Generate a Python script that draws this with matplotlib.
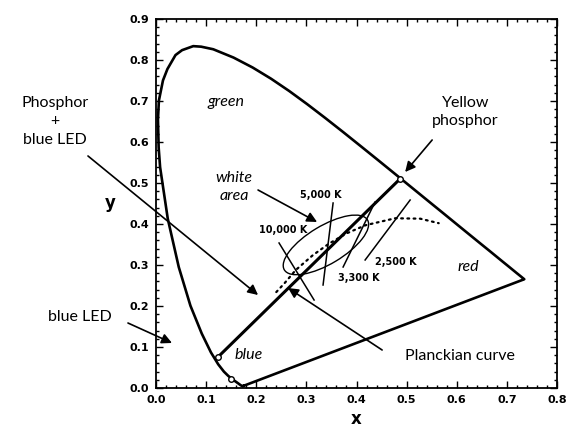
import numpy as np
import matplotlib
matplotlib.use("Agg")
import matplotlib.pyplot as plt
from matplotlib.patches import Ellipse
from matplotlib.transforms import ScaledTranslation
from matplotlib.ticker import MultipleLocator, FormatStrFormatter

# CIE 1931 spectral locus, 380-700 nm
locus_x = [0.1741, 0.1738, 0.1733, 0.1726, 0.1714, 0.1703, 0.1689, 0.1669, 0.1644, 0.1611,
           0.1566, 0.1510, 0.1440, 0.1355, 0.1241, 0.1096, 0.0913, 0.0687, 0.0454, 0.0235,
           0.0082, 0.0053, 0.0039, 0.0058, 0.0139, 0.0228, 0.0389, 0.0520, 0.0743, 0.0900,
           0.1142, 0.1547, 0.1929, 0.2296, 0.2658,
           0.3016, 0.3373, 0.3731, 0.4087, 0.4441, 0.4788, 0.5125, 0.5448, 0.5752, 0.6029,
           0.6270, 0.6482, 0.6658, 0.6801, 0.6915, 0.7006, 0.7079, 0.7190, 0.7260, 0.7300,
           0.7334, 0.7347]
locus_y = [0.0050, 0.0049, 0.0048, 0.0048, 0.0051, 0.0058, 0.0069, 0.0086, 0.0109, 0.0138,
           0.0177, 0.0227, 0.0297, 0.0399, 0.0578, 0.0868, 0.1327, 0.2007, 0.2950, 0.4127,
           0.5384, 0.5864, 0.6548, 0.7012, 0.7502, 0.7780, 0.8120, 0.8240, 0.8338, 0.8325,
           0.8262, 0.8059, 0.7816, 0.7543, 0.7243,
           0.6923, 0.6589, 0.6245, 0.5896, 0.5547, 0.5202, 0.4866, 0.4544, 0.4242, 0.3965,
           0.3725, 0.3514, 0.3340, 0.3197, 0.3083, 0.2993, 0.2920, 0.2809, 0.2740, 0.2700,
           0.2666, 0.2653]

# Planckian locus (dotted)
planck_x = [0.240, 0.256, 0.279, 0.313, 0.345, 0.380, 0.418, 0.477, 0.527, 0.564]
planck_y = [0.234, 0.255, 0.288, 0.324, 0.352, 0.377, 0.397, 0.414, 0.413, 0.402]

# blue LED -> yellow phosphor mixing line
blue_pt = (0.124, 0.076)
yellow_pt = (0.486, 0.509)
locus_pt = (0.149, 0.022)

# isotemperature lines
iso_labels = ["10,000 K", "5,000 K", "3,300 K", "2,500 K"]
iso_start = [(0.2455, 0.3537), (0.3533, 0.4512), (0.4371, 0.4537), (0.5070, 0.4585)]
iso_end = [(0.3154, 0.2146), (0.3333, 0.2512), (0.3733, 0.2951), (0.4172, 0.3122)]
iso_text = [(0.2535, 0.3854), (0.3293, 0.4707), (0.4052, 0.2683), (0.4790, 0.3073)]

# white area ellipse (center in data, size in inches)
white_center = (0.339, 0.349)
white_w, white_h, white_ang = 0.97, 0.38, 31

# arrows: tail -> head
arrow_tail = [(-0.1357, 0.5659), (-0.0559, 0.1585), (0.2036, 0.4829), (0.5509, 0.6049),
              (0.4511, 0.0927)]
arrow_head = [(0.2036, 0.2268), (0.0319, 0.1098), (0.3214, 0.4049), (0.4970, 0.5268),
              (0.2635, 0.2439)]

fig = plt.figure(figsize=(5.77, 4.28), dpi=100)
ax = fig.add_axes([156 / 577, 40 / 428, 401 / 577, 369 / 428])

ax.plot(locus_x + [locus_x[0]], locus_y + [locus_y[0]], color="black", lw=1.9,
        solid_joinstyle="round")
ax.plot(planck_x, planck_y, color="black", lw=1.6, ls=(0, (0.8, 2.0)),
        dash_capstyle="round")
ax.plot([blue_pt[0], yellow_pt[0]], [blue_pt[1], yellow_pt[1]], color="black", lw=2.2)

for p in [blue_pt, yellow_pt, locus_pt]:
    ax.plot(p[0], p[1], "o", ms=4, mfc="white", mec="black", mew=1.0)

for lab, s, e, t in zip(iso_labels, iso_start, iso_end, iso_text):
    ax.plot([s[0], e[0]], [s[1], e[1]], color="black", lw=1.1)
    ax.text(t[0], t[1], lab, fontsize=7, fontweight="bold", ha="center", va="center",
            family="DejaVu Sans")

ell = Ellipse((0, 0), white_w, white_h, angle=white_ang, fill=False, ec="black", lw=1.0,
              transform=fig.dpi_scale_trans + ScaledTranslation(*white_center, ax.transData))
ax.add_patch(ell)

for tl, hd in zip(arrow_tail, arrow_head):
    ax.annotate("", xy=hd, xytext=tl, annotation_clip=False,
                arrowprops=dict(arrowstyle="-|>", color="black", lw=1.2,
                                mutation_scale=15, shrinkA=0, shrinkB=0))

font = "Lato"
ax.text(-0.2016, 0.650, "Phosphor\n+\nblue LED", fontsize=11.5, ha="center", va="center",
        family=font, linespacing=1.45)
ax.text(-0.1517, 0.1732, "blue LED", fontsize=11.5, ha="center", va="center", family=font)
ax.text(0.617, 0.6732, "Yellow\nphosphor", fontsize=11.5, ha="center", va="center",
        family=font, linespacing=1.45)
ax.text(0.6068, 0.078, "Planckian curve", fontsize=11.5, ha="center", va="center", family=font)
ax.text(0.1397, 0.6976, "green", fontsize=11.5, style="italic", ha="center", va="center",
        family=font)
ax.text(0.1557, 0.4902, "white\narea", fontsize=11.5, style="italic", ha="center",
        va="center", family=font, linespacing=1.3)
ax.text(0.1856, 0.0805, "blue", fontsize=11.5, style="italic", ha="center", va="center",
        family=font)
ax.text(0.6228, 0.2951, "red", fontsize=11.5, style="italic", ha="center", va="center",
        family=font)

ax.set_xlim(0, 0.8)
ax.set_ylim(0, 0.9)
ax.xaxis.set_major_locator(MultipleLocator(0.1))
ax.xaxis.set_minor_locator(MultipleLocator(0.02))
ax.yaxis.set_major_locator(MultipleLocator(0.1))
ax.yaxis.set_minor_locator(MultipleLocator(0.02))
ax.tick_params(which="both", direction="in", top=True, right=True, width=1.0)
ax.tick_params(which="major", length=5, labelsize=8, pad=5)
ax.tick_params(which="minor", length=2.5)
ax.xaxis.set_major_formatter(FormatStrFormatter("%.1f"))
ax.yaxis.set_major_formatter(FormatStrFormatter("%.1f"))
for lab in ax.get_xticklabels() + ax.get_yticklabels():
    lab.set_fontweight("bold")
for s in ax.spines.values():
    s.set_linewidth(1.3)

ax.set_xlabel("x", fontsize=12, fontweight="bold", labelpad=4)
ax.set_ylabel("y", fontsize=12, fontweight="bold", rotation=0, labelpad=14, va="center")

fig.savefig("out.png", dpi=100)
